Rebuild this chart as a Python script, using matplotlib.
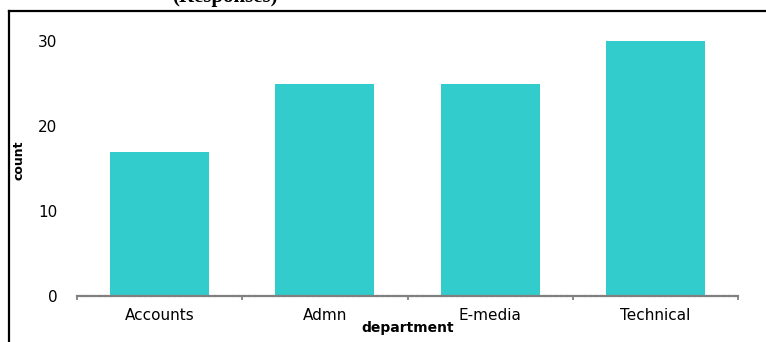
import matplotlib
matplotlib.use("Agg")
import matplotlib.pyplot as plt
from matplotlib.lines import Line2D

departments = ["Accounts", "Admn", "E-media", "Technical"]
counts = [17, 25, 25, 30]
yticks = [0, 10, 20, 30]

W, H = 766, 342
plt.rcParams['font.family'] = ['DejaVu Sans']
fig = plt.figure(figsize=(W / 100, H / 100), dpi=100)

ax = fig.add_axes([77 / W, 1 - 296 / H, (738 - 77) / W, (296 - 24) / H])
x = list(range(len(departments)))
ax.bar(x, counts, width=0.6, color="#33CCCC", zorder=2)

ax.set_xlim(-0.5, len(departments) - 0.5)
ax.set_ylim(0, 32)
ax.set_yticks(yticks)
ax.set_yticklabels([str(v) for v in yticks], fontsize=11)
ax.tick_params(axis="y", length=0, pad=14)

# category labels centred, tick marks on the boundaries
ax.set_xticks(x)
ax.set_xticklabels(departments, fontsize=11)
ax.set_xticks([i - 0.5 for i in range(len(departments) + 1)], minor=True)
ax.tick_params(axis="x", which="major", length=0, pad=9)
ax.tick_params(axis="x", which="minor", length=3, width=1.2, color="#777777", direction="out")

for s in ["top", "right", "left"]:
    ax.spines[s].set_visible(False)
ax.spines["bottom"].set_color("#808080")
ax.spines["bottom"].set_linewidth(1.6)
ax.spines["bottom"].set_linestyle((0, (2, 0.6)))

ax.set_xlabel("department", fontsize=10, fontweight="bold", labelpad=-2)
ax.set_ylabel("count", fontsize=9, fontweight="bold", labelpad=9)

# outer frame (left and top edges only)
fig.add_artist(Line2D([8.5 / W, 8.5 / W], [0, 1 - 11 / H], color="black", lw=1.6,
                      transform=fig.transFigure))
fig.add_artist(Line2D([8.5 / W, 1], [1 - 11 / H, 1 - 11 / H], color="black", lw=1.6,
                      transform=fig.transFigure))

fig.text(172 / W, 1 - 2 / H, "(Responses)", fontsize=15, fontweight="bold",
         family=["Liberation Serif", "DejaVu Serif"], ha="left", va="baseline")

fig.savefig("out.png", dpi=100)
